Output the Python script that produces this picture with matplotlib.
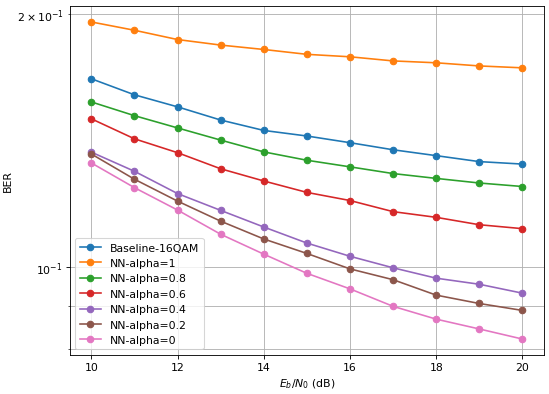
import numpy as np
import matplotlib
matplotlib.use("Agg")
import matplotlib.pyplot as plt

# Eb/N0 values (dB)
ebn0 = [10, 11, 12, 13, 14, 15, 16, 17, 18, 19, 20]

# BER curves
ber_baseline = [0.1676, 0.1604, 0.1552, 0.1497, 0.1455, 0.1433, 0.1407, 0.1380, 0.1358, 0.1336, 0.1327]
ber_alpha_1 = [0.1958, 0.1914, 0.1866, 0.1838, 0.1816, 0.1792, 0.1780, 0.1760, 0.1751, 0.1736, 0.1727]
ber_alpha_08 = [0.1573, 0.1515, 0.1465, 0.1417, 0.1372, 0.1341, 0.1317, 0.1293, 0.1276, 0.1260, 0.1248]
ber_alpha_06 = [0.1502, 0.1422, 0.1369, 0.1310, 0.1267, 0.1228, 0.1201, 0.1165, 0.1147, 0.1124, 0.1112]
ber_alpha_04 = [0.1371, 0.1301, 0.1224, 0.1169, 0.1117, 0.1069, 0.1031, 0.0999, 0.0971, 0.0955, 0.0932]
ber_alpha_02 = [0.1364, 0.1273, 0.1199, 0.1135, 0.1081, 0.1039, 0.0996, 0.0967, 0.0927, 0.0906, 0.0889]
ber_alpha_0 = [0.1331, 0.1244, 0.1170, 0.1095, 0.1037, 0.0984, 0.0943, 0.0899, 0.0868, 0.0845, 0.0822]

series = [
    ("Baseline-16QAM", ber_baseline, "tab:blue"),
    ("NN-alpha=1", ber_alpha_1, "tab:orange"),
    ("NN-alpha=0.8", ber_alpha_08, "tab:green"),
    ("NN-alpha=0.6", ber_alpha_06, "tab:red"),
    ("NN-alpha=0.4", ber_alpha_04, "tab:purple"),
    ("NN-alpha=0.2", ber_alpha_02, "tab:brown"),
    ("NN-alpha=0", ber_alpha_0, "tab:pink"),
]

# original looks like a downscaled default figure, so use a low dpi
fig, ax = plt.subplots(figsize=(7.051, 5.064), dpi=78)
fig.subplots_adjust(left=0.127, right=0.989, top=0.982, bottom=0.099)

for label, ber, color in series:
    ax.semilogy(ebn0, ber, marker='o', label=label, color=color)

ax.set_xlabel('$E_b/N_0$ (dB)')
ax.set_ylabel('BER')
ax.grid(True, which='both')
ax.legend(loc='lower left')

fig.savefig('out.png', dpi=78)
